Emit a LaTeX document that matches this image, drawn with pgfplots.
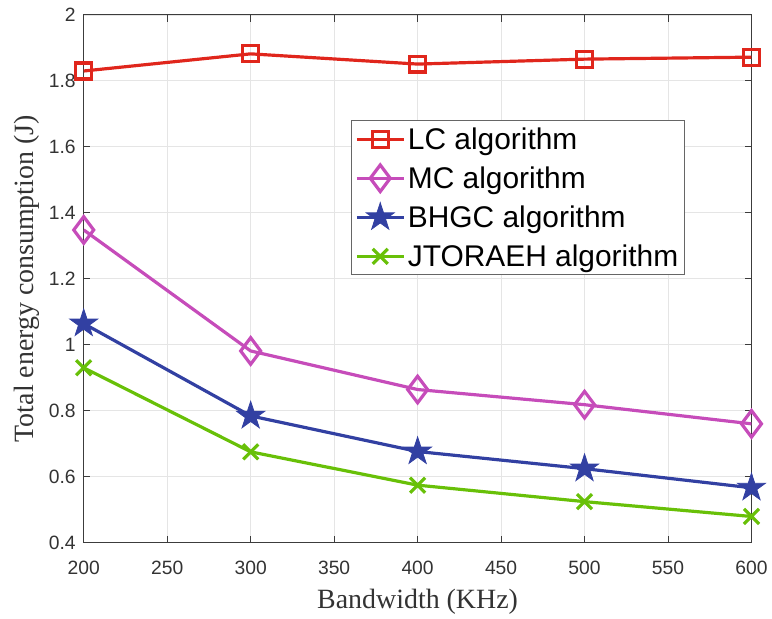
\documentclass[border=0pt]{standalone}
\usepackage{fontspec}
\setmainfont{Liberation Serif}
\newfontfamily\arialfont{Liberation Sans}
\usepackage{pgfplots}
\pgfplotsset{compat=1.18}
\definecolor{lcred}{RGB}{224,38,28}
\definecolor{mcmag}{RGB}{198,76,186}
\definecolor{bhblue}{RGB}{50,64,162}
\definecolor{jtgreen}{RGB}{104,192,8}
\definecolor{axgray}{RGB}{60,60,60}
% MATLAB style five-pointed star
\pgfdeclareplotmark{pentagram}{%
  \pgfpathmoveto{\pgfpointpolar{90}{\pgfplotmarksize}}%
  \pgfpathlineto{\pgfpointpolar{126}{0.382\pgfplotmarksize}}%
  \pgfpathlineto{\pgfpointpolar{162}{\pgfplotmarksize}}%
  \pgfpathlineto{\pgfpointpolar{198}{0.382\pgfplotmarksize}}%
  \pgfpathlineto{\pgfpointpolar{234}{\pgfplotmarksize}}%
  \pgfpathlineto{\pgfpointpolar{270}{0.382\pgfplotmarksize}}%
  \pgfpathlineto{\pgfpointpolar{306}{\pgfplotmarksize}}%
  \pgfpathlineto{\pgfpointpolar{342}{0.382\pgfplotmarksize}}%
  \pgfpathlineto{\pgfpointpolar{18}{\pgfplotmarksize}}%
  \pgfpathlineto{\pgfpointpolar{54}{0.382\pgfplotmarksize}}%
  \pgfpathclose
  \pgfusepathqfillstroke}
\begin{document}
\begin{tikzpicture}
\begin{axis}[
  scale only axis,
  width=502.5pt, height=397pt,
  xmin=200, xmax=600, ymin=0.4, ymax=2,
  xtick={200,250,...,600},
  ytick={0.4,0.6,...,2.01},
  yticklabels={0.4,0.6,0.8,1,1.2,1.4,1.6,1.8,2},
  grid=major,
  grid style={black!10, line width=0.6pt},
  axis line style={axgray, line width=0.7pt},
  tick style={axgray, line width=0.7pt},
  tick align=inside,
  major tick length=5pt,
  tick label style={font=\arialfont\fontsize{14.5}{16}\selectfont, text=black!80},
  /pgf/number format/assume math mode=true,
  xticklabel style={yshift=-10.5pt},
  yticklabel style={xshift=-2.5pt},
  xlabel={Bandwidth (KHz)},
  ylabel={Total energy consumption (J)},
  xlabel style={yshift=-4pt},
  label style={font=\fontsize{21}{24}\selectfont, text=black!80},
  legend style={at={(rel axis cs:0.4,0.8)}, anchor=north west,
    font=\arialfont\fontsize{22.5}{26}\selectfont, draw=black!60, line width=0.6pt,
    row sep=7.5pt, inner xsep=3pt, inner ysep=3pt, cells={anchor=west}},
  legend image code/.code={\draw[mark repeat=2,mark phase=2] plot coordinates {(0cm,0cm) (0.62cm,0cm) (1.24cm,0cm)};},
]
\addplot[color=lcred, line width=2.4pt, mark=square, mark size=6pt, mark options={line width=2.4pt}]
  coordinates {(200,1.830) (300,1.882) (400,1.851) (500,1.866) (600,1.872)};
\addlegendentry{LC algorithm}
\addplot[color=mcmag, line width=2.4pt, mark=diamond, mark size=10pt, mark options={line width=2.4pt}]
  coordinates {(200,1.348) (300,0.981) (400,0.864) (500,0.818) (600,0.760)};
\addlegendentry{MC algorithm}
\addplot[color=bhblue, line width=2.4pt, mark=pentagram, mark size=11pt, mark options={line width=0.6pt, fill=bhblue}]
  coordinates {(200,1.064) (300,0.784) (400,0.676) (500,0.624) (600,0.566)};
\addlegendentry{BHGC algorithm}
\addplot[color=jtgreen, line width=2.4pt, mark=x, mark size=8pt, mark options={line width=2.4pt}]
  coordinates {(200,0.930) (300,0.675) (400,0.574) (500,0.524) (600,0.479)};
\addlegendentry{JTORAEH algorithm}
\end{axis}
\draw[draw=none] (current axis.north west) -- ++(0,11.25pt);
\draw[draw=none] (current axis.north west) -- ++(-63pt,0);
\end{tikzpicture}
\end{document}
